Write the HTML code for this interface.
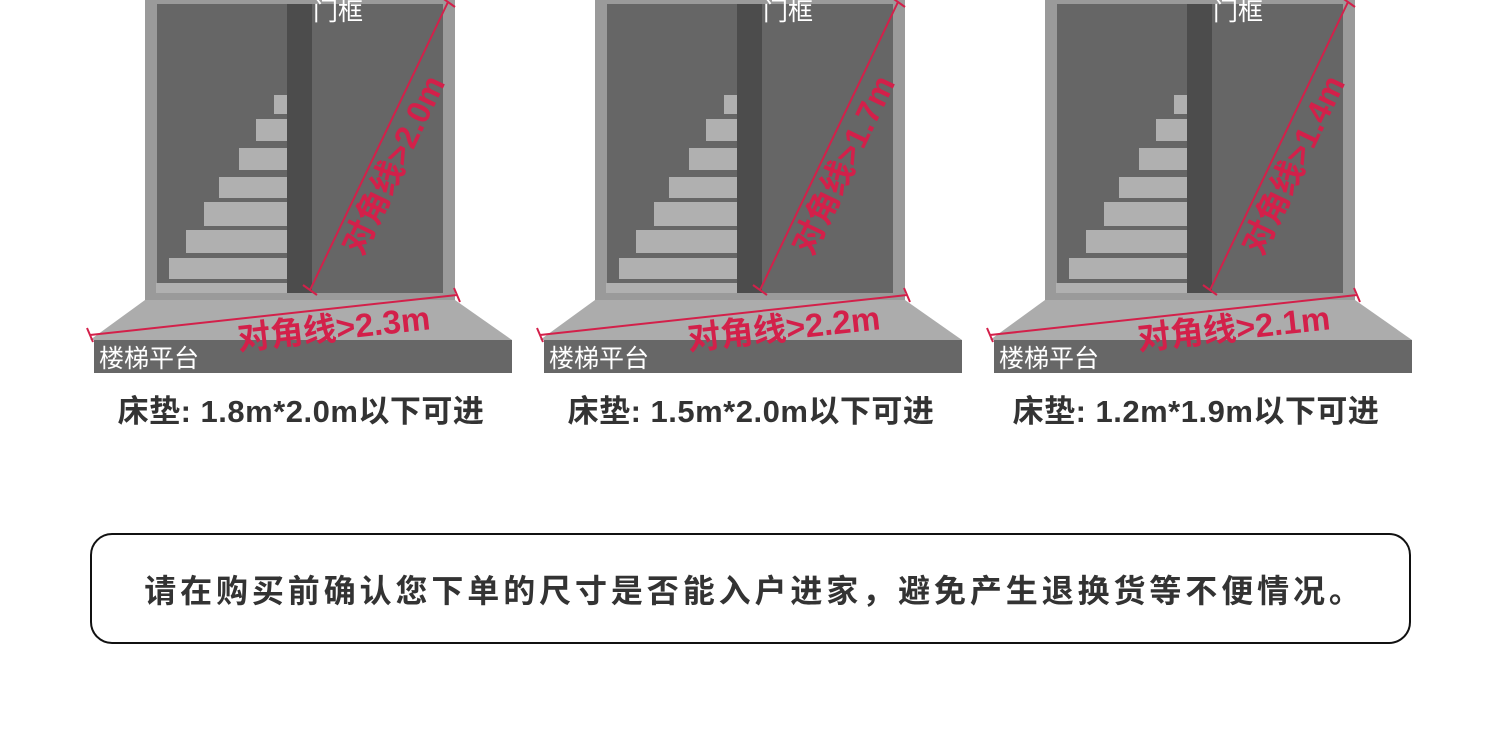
<!DOCTYPE html>
<html><head><meta charset="utf-8"><style>
html,body{margin:0;padding:0;background:#fff;}
body{width:1500px;height:752px;overflow:hidden;position:relative;font-family:"Liberation Sans","Noto Sans CJK SC",sans-serif;}
svg text{font-family:"Liberation Sans","Noto Sans CJK SC",sans-serif;}
.box{position:absolute;left:90px;top:533px;width:1317px;height:107px;border:2px solid #111;border-radius:22px;box-sizing:content-box;}
.box span{position:absolute;left:0;right:0;top:40px;text-align:center;font-size:32px;line-height:32px;color:#333;font-weight:bold;letter-spacing:3.9px;padding-left:8px;white-space:nowrap;font-family:"Liberation Sans","Noto Sans CJK SC",sans-serif;}
</style></head><body>
<svg width="1500" height="752" style="position:absolute;left:0;top:0">
<defs>
<g id="p">
<rect x="145" y="0" width="310" height="300" fill="#9a9a9a"/>
<rect x="157" y="4" width="286" height="289" fill="#666"/>
<rect x="287" y="4" width="25" height="289" fill="#4c4c4c"/>
<g fill="#b0b0b0">
<rect x="274" y="95" width="13" height="19"/>
<rect x="256" y="119" width="31" height="22"/>
<rect x="239" y="148" width="48" height="22"/>
<rect x="219" y="177" width="68" height="21"/>
<rect x="204" y="202" width="83" height="24"/>
<rect x="186" y="230" width="101" height="23"/>
<rect x="169" y="258" width="118" height="21"/>
<rect x="156" y="283" width="131" height="10"/>
</g>
<polygon points="145,300 455,300 512,340 90,340" fill="#acacac"/>
<rect x="94" y="340" width="418" height="33" fill="#676767"/>
<text x="99" y="367" font-size="25" fill="#fff">楼梯平台</text>
<text x="313" y="20" font-size="25" fill="#fff">门框</text>
<line x1="310" y1="290" x2="448" y2="2" stroke="#d3204a" stroke-width="2"/>
<line x1="90" y1="335" x2="457" y2="295" stroke="#d3204a" stroke-width="2"/>
<line x1="441" y1="-3" x2="455" y2="7" stroke="#d3204a" stroke-width="2"/>
<line x1="303" y1="285" x2="317" y2="295" stroke="#d3204a" stroke-width="2"/>
<line x1="87" y1="328" x2="93" y2="342" stroke="#d3204a" stroke-width="2"/>
<line x1="454" y1="288" x2="460" y2="302" stroke="#d3204a" stroke-width="2"/>
</g>
</defs>
<use href="#p"/>
<use href="#p" x="450"/>
<use href="#p" x="900"/>
<g fill="#d3204a" font-size="33" font-weight="bold">
<text transform="translate(396,166) rotate(-64.4)" text-anchor="middle" dominant-baseline="middle">对角线&gt;2.0m</text>
<text transform="translate(846,166) rotate(-64.4)" text-anchor="middle" dominant-baseline="middle">对角线&gt;1.7m</text>
<text transform="translate(1296,166) rotate(-64.4)" text-anchor="middle" dominant-baseline="middle">对角线&gt;1.4m</text>
<text transform="translate(334,331) rotate(-6.2)" text-anchor="middle" dominant-baseline="middle">对角线&gt;2.3m</text>
<text transform="translate(784,331) rotate(-6.2)" text-anchor="middle" dominant-baseline="middle">对角线&gt;2.2m</text>
<text transform="translate(1234,331) rotate(-6.2)" text-anchor="middle" dominant-baseline="middle">对角线&gt;2.1m</text>
</g>
<g fill="#333" font-size="31" text-anchor="middle" font-weight="bold" letter-spacing="0.5">
<text x="301" y="422">床垫: 1.8m*2.0m以下可进</text>
<text x="751" y="422">床垫: 1.5m*2.0m以下可进</text>
<text x="1196" y="422">床垫: 1.2m*1.9m以下可进</text>
</g>
</svg>
<div class="box"><span>请在购买前确认您下单的尺寸是否能入户进家，避免产生退换货等不便情况。</span></div>
</body></html>
